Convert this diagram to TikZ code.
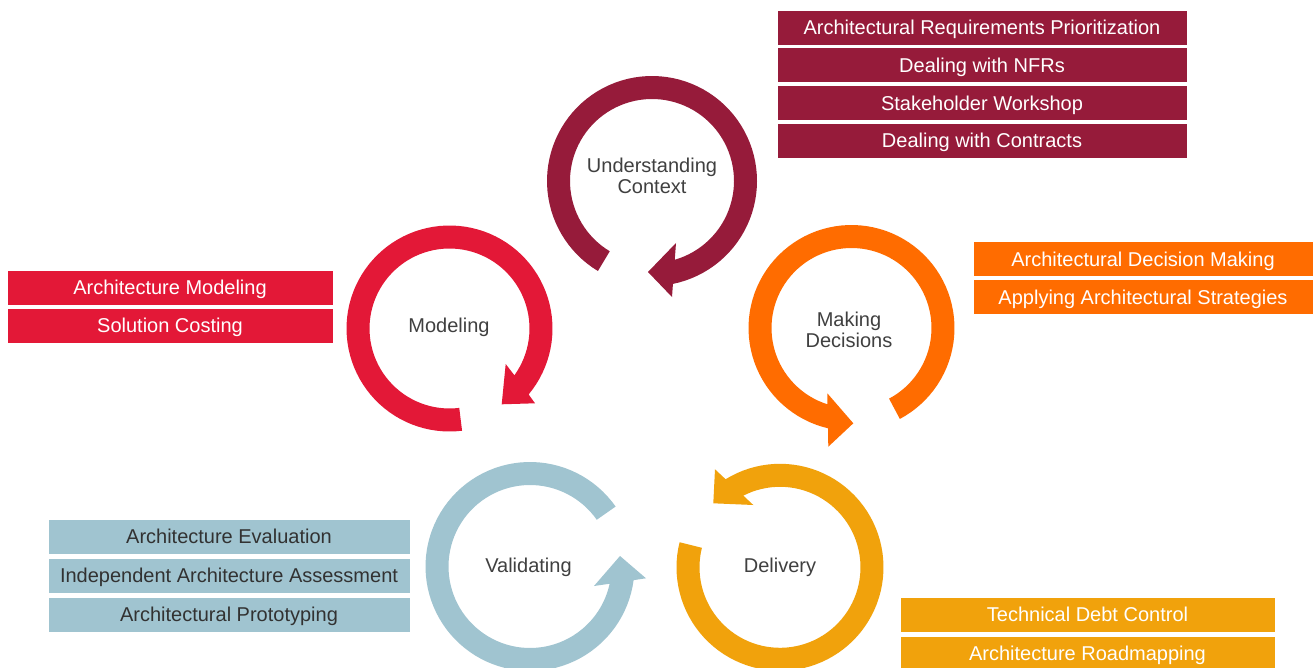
\documentclass[tikz,border=0pt]{standalone}
\usepackage{fontspec}
\setmainfont{Liberation Sans}
\definecolor{ucC}{RGB}{150,27,58}
\definecolor{modC}{RGB}{227,24,55}
\definecolor{decC}{RGB}{255,108,0}
\definecolor{valC}{RGB}{160,196,208}
\definecolor{delC}{RGB}{241,162,12}
\definecolor{lblC}{RGB}{64,64,64}
\definecolor{boxtxt}{RGB}{50,50,50}
\tikzset{
  ringlabel/.style={text=lblC, font=\fontsize{20}{21}\selectfont, align=center, inner sep=0pt},
  tagbox/.style={rectangle, draw=white, line width=0.8pt, inner sep=0pt,
     minimum height=35pt, text height=14.4pt, text depth=0pt,
     font=\fontsize{20}{24}\selectfont, text=white},
  ucbox/.style={tagbox, fill=ucC, minimum width=410pt},
  modbox/.style={tagbox, fill=modC, minimum width=326pt},
  decbox/.style={tagbox, fill=decC, minimum width=340pt},
  valbox/.style={tagbox, fill=valC, minimum width=362pt, text=boxtxt},
  delbox/.style={tagbox, fill=delC, minimum width=375pt},
}
\begin{document}
\begin{tikzpicture}[x=1pt,y=-1pt]
\clip (0,0) rectangle (1314,668);
\fill[white] (0,0) rectangle (1314,668);

% Understanding Context ring
\fill[ucC] plot[domain=121:438.5,samples=90] ({652+105*cos(\x)},{181+105*sin(\x)})
  -- (672,297) -- (648,272) -- (676,243)
  -- plot[domain=433.9:121,samples=90] ({652+82*cos(\x)},{181+82*sin(\x)}) -- cycle;
% Modeling ring
\fill[modC] plot[domain=83:399.8,samples=90] ({449.5+103*cos(\x)},{328.5+103*sin(\x)})
  -- (535,403.3) -- (501.7,404.3) -- (505.7,364)
  -- plot[domain=395.8:83,samples=90] ({449.5+80*cos(\x)},{328.5+80*sin(\x)}) -- cycle;
% Making Decisions ring
\fill[decC] plot[domain=62:-256.8,samples=90] ({851.5+103*cos(\x)},{328+103*sin(\x)})
  -- (828.3,446.7) -- (853.3,423.3) -- (827.3,393.3)
  -- plot[domain=-252.5:62,samples=90] ({851.5+80*cos(\x)},{328+80*sin(\x)}) -- cycle;
% Validating ring
\fill[valC] plot[domain=-35:-352.5,samples=90] ({530+104.5*cos(\x)},{566.5+104.5*sin(\x)})
  -- (646,578.3) -- (620,556) -- (594,586)
  -- plot[domain=-347.8:-35,samples=90] ({530+81.5*cos(\x)},{566.5+81.5*sin(\x)}) -- cycle;
% Delivery ring
\fill[delC] plot[domain=194:-121.7,samples=90] ({780+103.5*cos(\x)},{567.3+103.5*sin(\x)})
  -- (715,469.3) -- (713.3,503.3) -- (753.3,505)
  -- plot[domain=-117.1:194,samples=90] ({780+80.5*cos(\x)},{567.3+80.5*sin(\x)}) -- cycle;

% ring labels
\node[ringlabel] (uc) at (652,176) {Understanding\\Context};
\node[ringlabel, anchor=base] (mod) at (449,332.5) {Modeling};
\node[ringlabel] (dec) at (849,330) {Making\\Decisions};
\node[ringlabel, anchor=base] (val) at (528.5,572) {Validating};
\node[ringlabel, anchor=base] (del) at (780,572) {Delivery};

% boxes
\node[ucbox] (uc1) at (982,27.5) {Architectural Requirements Prioritization};
\node[ucbox] (uc2) at (982,65.2) {Dealing with NFRs};
\node[ucbox] (uc3) at (982,102.9) {Stakeholder Workshop};
\node[ucbox] (uc4) at (982,140.6) {Dealing with Contracts};

\node[modbox] (mod1) at (170,287.5) {Architecture Modeling};
\node[modbox] (mod2) at (170,325.5) {Solution Costing};

\node[decbox] (dec1) at (1143,259) {Architectural Decision Making};
\node[decbox] (dec2) at (1143,297) {Applying Architectural Strategies};

\node[valbox] (val1) at (229,536.5) {Architecture Evaluation};
\node[valbox] (val2) at (229,575.5) {Independent Architecture Assessment};
\node[valbox] (val3) at (229,614.5) {Architectural Prototyping};

\node[delbox] (del1) at (1087.5,614.5) {Technical Debt Control};
\node[delbox] (del2) at (1087.5,653.5) {Architecture Roadmapping};
\end{tikzpicture}
\end{document}
